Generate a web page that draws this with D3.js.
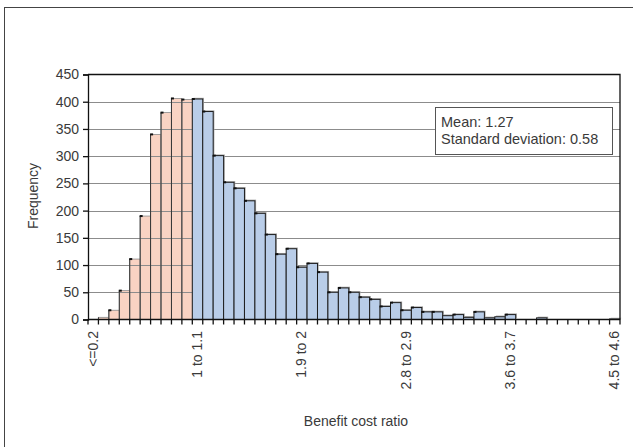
<!DOCTYPE html>
<html>
<head>
<meta charset="utf-8">
<script src="https://cdn.jsdelivr.net/npm/d3@7"></script>
<style>
	body { margin: 0; background: #fff; }
	text { font-family: "Liberation Sans", Arial, sans-serif; fill: #3a3a3a; }
</style>
</head>
<body>
<svg id="main" width="633" height="447"></svg>
<script>

// frequency per benefit cost ratio bin (51 bins, first is <=0.2)
const freq = [
	0, 4, 17, 53, 111, 190, 340, 380, 406, 404,
	405, 382, 301, 252, 241, 218, 195, 156, 120, 130,
	96, 103, 87, 50, 58, 50, 41, 37, 24, 31,
	17, 22, 14, 14, 7, 9, 4, 14, 3, 5,
	9, 0, 0, 3, 0, 0, 0, 0, 0, 0,
	1
];
const bins = d3.range(freq.length);
// which bins carry a label
const labelBins = [0, 10, 20, 30, 40, 50];
const labelText = ['<=0.2', '1 to 1.1', '1.9 to 2', '2.8 to 2.9', '3.6 to 3.7', '4.5 to 4.6'];
const yTicks = [0, 50, 100, 150, 200, 250, 300, 350, 400, 450];
const firstAboveOne = 10;
const statsLines = ['Mean: 1.27', 'Standard deviation: 0.58'];

main();

function main() {

	let svg = d3.select('#main');

	let
		left = 88,
		right = 620,
		top = 74.5,
		bottom = 319.5,
		fs = '14px';

	let x = d3.scaleBand()
		.domain(bins)
		.range([left, right])
		.padding(0);

	let y = d3.scaleLinear()
		.domain([0, 450])
		.range([bottom, top]);

	// outer figure frame
	svg.append('rect')
		.attr('x', 4.5).attr('y', 7.5)
		.attr('width', 700).attr('height', 500)
		.attr('fill', 'none')
		.attr('stroke', '#444')
		.attr('stroke-width', 1);

	let data = bins.map(i => ({ i: i, v: freq[i] }));

	// peach bars go under the gridlines
	let low = data.filter(d => d.i < firstAboveOne);
	let high = data.filter(d => d.i >= firstAboveOne);

	svg.append('g')
		.selectAll('rect')
		.data(low)
		.enter()
		.append('rect')
		.attr('x', d => x(d.i))
		.attr('y', d => y(d.v))
		.attr('width', x.bandwidth())
		.attr('height', d => y(0) - y(d.v))
		.attr('fill', '#f9d3c3')
		.attr('stroke', '#8a8a8a')
		.attr('stroke-width', 0.8);

	// gridlines
	svg.append('g')
		.selectAll('line')
		.data(yTicks.filter(t => t > 0 && t < 450))
		.enter()
		.append('line')
		.attr('x1', left).attr('x2', right)
		.attr('y1', d => Math.round(y(d)) + 0.5)
		.attr('y2', d => Math.round(y(d)) + 0.5)
		.attr('stroke', '#8c8c8c')
		.attr('stroke-width', 1);

	// vertical dividers inside the peach bars
	svg.append('g')
		.selectAll('line')
		.data(low.filter(d => d.v > 0))
		.enter()
		.append('line')
		.attr('x1', d => x(d.i)).attr('x2', d => x(d.i))
		.attr('y1', d => y(d.v)).attr('y2', bottom)
		.attr('stroke', '#333')
		.attr('stroke-width', 1);

	// blue bar shadow then bars
	svg.append('g')
		.selectAll('rect')
		.data(high.filter(d => d.v > 0))
		.enter()
		.append('rect')
		.attr('x', d => x(d.i) + 1.2)
		.attr('y', d => y(d.v) - 1.2)
		.attr('width', x.bandwidth())
		.attr('height', d => y(0) - y(d.v))
		.attr('fill', '#a8a8a8');

	svg.append('g')
		.selectAll('rect')
		.data(high)
		.enter()
		.append('rect')
		.attr('x', d => x(d.i))
		.attr('y', d => y(d.v))
		.attr('width', x.bandwidth())
		.attr('height', d => y(0) - y(d.v))
		.attr('fill', '#b9cde8')
		.attr('stroke', '#1e1e1e')
		.attr('stroke-width', 1);

	// little dark marks on the top left corner of each bar
	svg.append('g')
		.selectAll('rect')
		.data(data.filter(d => d.v > 8))
		.enter()
		.append('rect')
		.attr('x', d => x(d.i) - 0.5)
		.attr('y', d => y(d.v) - 1)
		.attr('width', 3)
		.attr('height', 2)
		.attr('fill', '#111');

	// plot frame (top and right)
	svg.append('path')
		.attr('d', `M${left},${top}H${right}V${bottom}`)
		.attr('fill', 'none')
		.attr('stroke', '#111')
		.attr('stroke-width', 1.3);

	// y axis
	let yAxis = d3.axisLeft(y)
		.tickValues(yTicks)
		.tickSize(5)
		.tickPadding(4);

	let gy = svg.append('g')
		.attr('transform', `translate(${left},0)`)
		.call(yAxis);
	gy.select('.domain').attr('stroke', '#111').attr('stroke-width', 1.3);
	gy.selectAll('.tick line').attr('stroke', '#111').attr('stroke-width', 1.3);
	gy.selectAll('text')
		.style('font-size', fs)
		.style('font-family', '"Liberation Sans", Arial, sans-serif')
		.attr('fill', '#3a3a3a');

	// x axis: tick marks on bin edges, labels on a few bins
	let gx = svg.append('g');
	gx.append('line')
		.attr('x1', left).attr('x2', right)
		.attr('y1', bottom).attr('y2', bottom)
		.attr('stroke', '#111')
		.attr('stroke-width', 1.5);
	gx.selectAll('.xt')
		.data(bins.concat([bins.length]))
		.enter()
		.append('line')
		.attr('class', 'xt')
		.attr('x1', d => d < bins.length ? x(d) : right)
		.attr('x2', d => d < bins.length ? x(d) : right)
		.attr('y1', bottom).attr('y2', bottom + 5)
		.attr('stroke', '#111')
		.attr('stroke-width', 1.3);

	gx.selectAll('.xl')
		.data(labelBins)
		.enter()
		.append('text')
		.attr('class', 'xl')
		.attr('transform', (d, k) => `translate(${x(d) + x.bandwidth() / 2 + 4.5},331) rotate(-90)`)
		.attr('text-anchor', 'end')
		.style('font-size', fs)
		.text((d, k) => labelText[k]);

	// axis titles
	svg.append('text')
		.attr('transform', 'translate(38,196) rotate(-90)')
		.attr('text-anchor', 'middle')
		.style('font-size', fs)
		.text('Frequency');

	svg.append('text')
		.attr('x', 356)
		.attr('y', 426)
		.attr('text-anchor', 'middle')
		.style('font-size', fs)
		.text('Benefit cost ratio');

	// stats box
	svg.append('rect')
		.attr('x', 435.5).attr('y', 107.5)
		.attr('width', 177).attr('height', 47)
		.attr('fill', '#fff')
		.attr('stroke', '#555')
		.attr('stroke-width', 1);

	svg.append('g')
		.selectAll('text')
		.data(statsLines)
		.enter()
		.append('text')
		.attr('x', 441)
		.attr('y', (d, k) => 126.5 + k * 17.5)
		.style('font-size', '14.5px')
		.text(d => d);
}
</script>
</body>
</html>
